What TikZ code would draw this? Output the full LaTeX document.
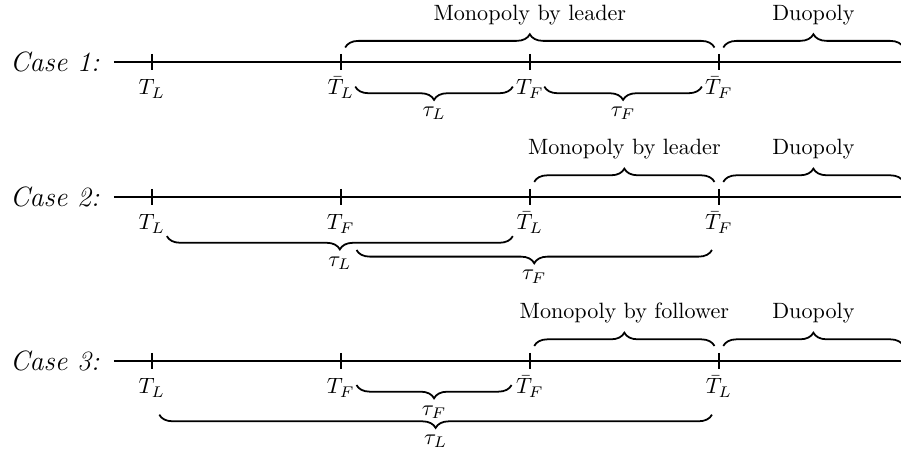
\documentclass[tikz,border=0pt]{standalone}
\usetikzlibrary{decorations.pathreplacing,calc}
\tikzset{
  axis/.style={thick},
  tickmark/.style={thick},
  ticklabel/.style={anchor=base},
  upbrace/.style={thick, decorate, decoration={brace, amplitude=6pt}},
  downbrace/.style={thick, decorate, decoration={brace, amplitude=6pt, mirror}},
  caselabel/.style={anchor=east, xshift=-3pt, font=\fontsize{12.6}{15}\selectfont\itshape},
  phase/.style={above=6.5pt},
  span/.style={below=5.5pt},
}
\newcommand{\tickat}[3]{% coordinate, label node name, label
  \draw[tickmark] ($(#1)+(0,0.13)$) -- ($(#1)+(0,-0.13)$);
  \node[ticklabel] (#2) at ($(#1)+(0,-0.52)$) {#3};
}
\begin{document}
\begin{tikzpicture}
\useasboundingbox (-2.408,-6.23) rectangle (11.89,0.992);

% ---------------- Case 1 ----------------
\coordinate (s1) at (-0.6,0.008);
\coordinate (e1) at (12,0.008);
\draw[axis] (s1) -- (e1);
\node[caselabel] (case1) at (s1) {Case 1:};
\coordinate (p1a) at (0,0.008);
\coordinate (p1b) at (3,0.008);
\coordinate (p1c) at (6,0.008);
\coordinate (p1d) at (9,0.008);
\tickat{p1a}{l1a}{$T_L$}
\tickat{p1b}{l1b}{$\bar{T}_L$}
\tickat{p1c}{l1c}{$T_F$}
\tickat{p1d}{l1d}{$\bar{T}_F$}
\draw[upbrace] ($(p1b)+(0.07,0.23)$) -- ($(p1d)+(-0.07,0.23)$)
  node[midway, phase] (m1) {Monopoly by leader};
\draw[upbrace] ($(p1d)+(0.07,0.23)$) -- ($(e1)+(-0.07,0.23)$)
  node[midway, phase] (d1) {Duopoly};
\draw[downbrace] ($(p1b)+(0.23,-0.39)$) -- ($(p1c)+(-0.27,-0.39)$)
  node[midway, span] (tl1) {$\tau_L$};
\draw[downbrace] ($(p1c)+(0.23,-0.39)$) -- ($(p1d)+(-0.27,-0.39)$)
  node[midway, span] (tf1) {$\tau_F$};

% ---------------- Case 2 ----------------
\coordinate (s2) at (-0.6,-2.135);
\coordinate (e2) at (12,-2.135);
\draw[axis] (s2) -- (e2);
\node[caselabel] (case2) at (s2) {Case 2:};
\coordinate (p2a) at (0,-2.135);
\coordinate (p2b) at (3,-2.135);
\coordinate (p2c) at (6,-2.135);
\coordinate (p2d) at (9,-2.135);
\tickat{p2a}{l2a}{$T_L$}
\tickat{p2b}{l2b}{$T_F$}
\tickat{p2c}{l2c}{$\bar{T}_L$}
\tickat{p2d}{l2d}{$\bar{T}_F$}
\draw[upbrace] ($(p2c)+(0.07,0.24)$) -- ($(p2d)+(-0.07,0.24)$)
  node[midway, phase] (m2) {Monopoly by leader};
\draw[upbrace] ($(p2d)+(0.07,0.24)$) -- ($(e2)+(-0.07,0.24)$)
  node[midway, phase] (d2) {Duopoly};
\draw[downbrace] ($(p2a)+(0.24,-0.62)$) -- ($(p2c)+(-0.27,-0.62)$)
  node[midway, span] (tl2) {$\tau_L$};
\draw[downbrace] ($(p2b)+(0.25,-0.84)$) -- ($(p2d)+(-0.11,-0.84)$)
  node[midway, span] (tf2) {$\tau_F$};

% ---------------- Case 3 ----------------
\coordinate (s3) at (-0.6,-4.738);
\coordinate (e3) at (12,-4.738);
\draw[axis] (s3) -- (e3);
\node[caselabel] (case3) at (s3) {Case 3:};
\coordinate (p3a) at (0,-4.738);
\coordinate (p3b) at (3,-4.738);
\coordinate (p3c) at (6,-4.738);
\coordinate (p3d) at (9,-4.738);
\tickat{p3a}{l3a}{$T_L$}
\tickat{p3b}{l3b}{$T_F$}
\tickat{p3c}{l3c}{$\bar{T}_F$}
\tickat{p3d}{l3d}{$\bar{T}_L$}
\draw[upbrace] ($(p3c)+(0.07,0.24)$) -- ($(p3d)+(-0.07,0.24)$)
  node[midway, phase] (m3) {Monopoly by follower};
\draw[upbrace] ($(p3d)+(0.07,0.24)$) -- ($(e3)+(-0.07,0.24)$)
  node[midway, phase] (d3) {Duopoly};
\draw[downbrace] ($(p3b)+(0.25,-0.38)$) -- ($(p3c)+(-0.29,-0.38)$)
  node[midway, span] (tf3) {$\tau_F$};
\draw[downbrace] ($(p3a)+(0.12,-0.85)$) -- ($(p3d)+(-0.11,-0.85)$)
  node[midway, span] (tl3) {$\tau_L$};
\end{tikzpicture}
\end{document}
